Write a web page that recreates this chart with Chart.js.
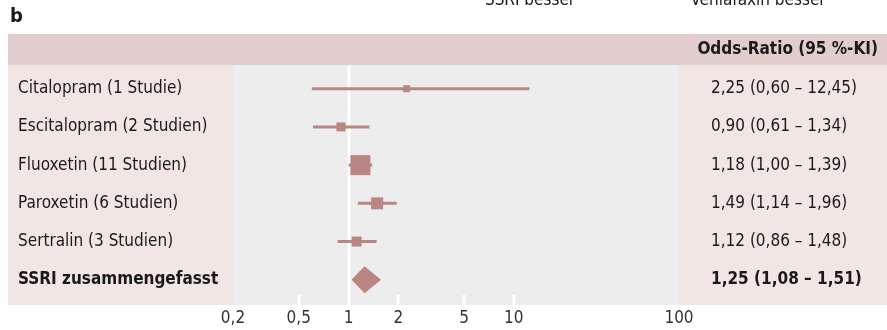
<!DOCTYPE html>
<html>
<head>
<meta charset="utf-8">
<script src="https://cdn.jsdelivr.net/npm/chart.js@4/dist/chart.umd.min.js"></script>
<style>
  html, body { margin: 0; padding: 0; background: #ffffff; }
  #wrap { position: relative; width: 887px; height: 330px; }
</style>
</head>
<body>
<div id="wrap"><canvas id="c" width="887" height="330"></canvas></div>
<script>
// Study groups (rows, top to bottom)
const labels = [
  'Citalopram (1 Studie)',
  'Escitalopram (2 Studien)',
  'Fluoxetin (11 Studien)',
  'Paroxetin (6 Studien)',
  'Sertralin (3 Studien)'
];
// Odds ratios with 95 % confidence limits
const oddsRatio = [2.25, 0.90, 1.18, 1.49, 1.12];
const ciLow     = [0.60, 0.61, 1.00, 1.14, 0.86];
const ciHigh    = [12.45, 1.34, 1.39, 1.96, 1.48];
// Relative weight of each group (side of the square, px)
const weightBox = [7, 9, 20, 12, 10];

// Pooled estimate
const pooledLabel = 'SSRI zusammengefasst';
const pooledOR   = 1.25;
const pooledLow  = 1.08;
const pooledHigh = 1.51;

// Axis ticks
const tickValues = [0.2, 0.5, 1, 2, 5, 10, 100];
const tickLabels = ['0,2', '0,5', '1', '2', '5', '10', '100'];

const headerText = 'Odds-Ratio (95 %-KI)';
const leftNote = 'SSRI besser';
const rightNote = 'Venlafaxin besser';
const panelLetter = 'b';

const MARK = 'rgb(185,134,131)';
const FONT = '"Liberation Sans Narrow", "DejaVu Sans Condensed", "Open Sans", sans-serif';
const TXT = '#1a1a1a';
const SIZE = 17;

const fmt = v => v.toFixed(2).replace('.', ',');
const ciText = (o, l, h) => `${fmt(o)} (${fmt(l)} – ${fmt(h)})`;

// Whiskers: one short line dataset per group
const datasets = labels.map((_, i) => ({
  type: 'line',
  data: [{ x: ciLow[i], y: i }, { x: ciHigh[i], y: i }],
  borderColor: MARK,
  borderWidth: 3,
  borderCapStyle: 'butt',
  pointRadius: 0,
  showLine: true,
  order: 2
}));
// Squares at the point estimates
datasets.push({
  type: 'scatter',
  data: labels.map((_, i) => ({ x: oddsRatio[i], y: i })),
  pointStyle: 'rect',
  pointRadius: weightBox.map(s => s / Math.SQRT2),
  pointBorderWidth: 0,
  backgroundColor: MARK,
  borderColor: MARK,
  order: 1
});

const POOLED_ROW = labels.length;

const layoutPlugin = {
  id: 'forestLayout',
  beforeDraw(chart) {
    const { ctx, chartArea: a, scales: { x } } = chart;
    const W = chart.width;
    ctx.save();
    // header band
    ctx.fillStyle = 'rgb(225,205,204)';
    ctx.fillRect(8, 34, W - 8, a.top - 34);
    // label and value columns
    ctx.fillStyle = 'rgb(241,230,228)';
    ctx.fillRect(8, a.top, a.left - 8, a.bottom - a.top);
    ctx.fillRect(a.right, a.top, W - a.right, a.bottom - a.top);
    // plot field
    ctx.fillStyle = 'rgb(236,237,236)';
    ctx.fillRect(a.left, a.top, a.right - a.left, a.bottom - a.top);
    // reference line at OR = 1
    ctx.fillStyle = '#ffffff';
    const x1 = x.getPixelForValue(1);
    ctx.fillRect(Math.round(x1) - 1.5, a.top, 3, a.bottom - a.top);
    // short tick marks at the base
    tickValues.forEach(v => {
      if (v === 1 || v === tickValues[0] || v === tickValues[tickValues.length - 1]) return;
      const px = x.getPixelForValue(v);
      ctx.fillRect(Math.round(px) - 1.5, a.bottom - 10, 3, 10);
    });
    ctx.restore();
  },
  afterDatasetsDraw(chart) {
    const { ctx, scales: { x, y } } = chart;
    ctx.save();
    // pooled diamond
    const yc = y.getPixelForValue(POOLED_ROW);
    const xl = x.getPixelForValue(pooledLow);
    const xr = x.getPixelForValue(pooledHigh);
    const xm = x.getPixelForValue(pooledOR);
    const h = 13.5;
    ctx.fillStyle = MARK;
    ctx.beginPath();
    ctx.moveTo(xl - 2.5, yc);
    ctx.lineTo(xm, yc - h);
    ctx.lineTo(xr + 3, yc);
    ctx.lineTo(xm, yc + h);
    ctx.closePath();
    ctx.fill();

    // texts
    ctx.fillStyle = TXT;
    ctx.font = `bold 20px ${FONT}`;
    ctx.textAlign = 'left';
    ctx.textBaseline = 'middle';
    ctx.fillText(panelLetter, 10, 17);

    // direction notes above the panel (only their lower part is visible)
    ctx.font = `${SIZE}px ${FONT}`;
    ctx.textAlign = 'center';
    ctx.textBaseline = 'alphabetic';
    ctx.fillText(leftNote, 530, 5);
    ctx.fillText(rightNote, 758, 5);

    ctx.textBaseline = 'middle';
    ctx.font = `bold ${SIZE}px ${FONT}`;
    ctx.textAlign = 'right';
    ctx.fillText(headerText, 878, 50);

    labels.forEach((lab, i) => {
      const py = y.getPixelForValue(i);
      ctx.font = `${SIZE}px ${FONT}`;
      ctx.textAlign = 'left';
      ctx.fillText(lab, 18, py);
      ctx.fillText(ciText(oddsRatio[i], ciLow[i], ciHigh[i]), 711, py);
    });
    ctx.font = `bold ${SIZE}px ${FONT}`;
    ctx.textAlign = 'left';
    ctx.fillText(pooledLabel, 18, yc);
    ctx.fillText(ciText(pooledOR, pooledLow, pooledHigh), 711, yc);
    ctx.restore();
  }
};

new Chart(document.getElementById('c'), {
  data: { datasets },
  options: {
    responsive: false,
    animation: false,
    layout: { padding: { left: 233, right: 208, top: 65, bottom: 0 } },
    plugins: { legend: { display: false }, tooltip: { enabled: false } },
    scales: {
      x: {
        type: 'logarithmic',
        min: 0.2,
        max: 100,
        border: { display: false },
        grid: { display: false, drawTicks: false },
        afterBuildTicks: s => { s.ticks = tickValues.map(v => ({ value: v })); },
        afterFit: s => { s.height = 25; },
        ticks: {
          autoSkip: false,
          maxRotation: 0,
          padding: 3,
          color: '#333333',
          font: { family: FONT, size: SIZE },
          callback: (v) => tickLabels[tickValues.indexOf(v)] ?? ''
        }
      },
      y: {
        type: 'linear',
        reverse: true,
        min: -0.62,
        max: 5.66,
        display: false
      }
    }
  },
  plugins: [layoutPlugin]
});
</script>
</body>
</html>
